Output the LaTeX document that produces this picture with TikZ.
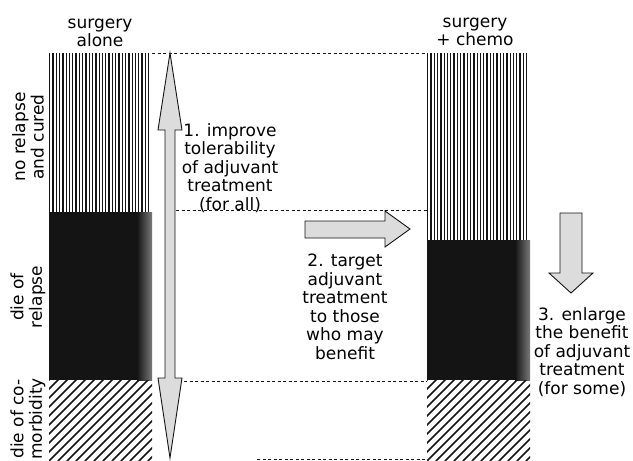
\documentclass[tikz,border=0pt]{standalone}
\usepackage{fontspec}
\setmainfont{DejaVu Sans}
\usepackage{xcolor}
\definecolor{ScanBlack}{HTML}{141414}
\definecolor{ScanGray}{HTML}{DCDCDC}
\definecolor{ScanEdge}{HTML}{7A7A7A}
\tikzset{
    % Text styles
    caption/.style={
        align=center,
        inner sep=0pt,
        font=\fontsize{17}{18.5}\selectfont
    },
    sidelabel/.style={
        caption,
        rotate=90
    },
    % Bar styles
    stripe/.style={
        line width=1.3pt,
        ScanBlack
    },
    hatch/.style={
        line width=1.7pt,
        ScanBlack
    },
    % Arrow styles
    blockarrow/.style={
        draw=ScanBlack,
        fill=ScanGray,
        line width=0.9pt,
        line join=miter
    },
    guide/.style={
        draw=ScanBlack,
        line width=1pt,
        dash pattern=on 3pt off 2.5pt
    }
}

\begin{document}
\begin{tikzpicture}[x=1pt, y=-1pt]
    \useasboundingbox (0,0) rectangle (633,461);
    \clip (0,0) rectangle (633,461);

    % bars: x of left edge / bottom of the striped part
    \foreach \bx/\by in {49/212,427/240} {
        \foreach \sx in {0,3.3,...,102}
            \draw[stripe] (\bx+\sx+0.7,53) -- (\bx+\sx+0.7,\by);
        \fill[ScanBlack] (\bx,\by) rectangle (\bx+103,380);
        \shade[left color=ScanBlack, right color=ScanEdge] (\bx+88,\by) rectangle (\bx+103,380);
        \begin{scope}
            \clip (\bx,380) rectangle (\bx+103,461);
            \foreach \hx in {-90,-81,...,110}
                \draw[hatch] (\bx+\hx,461) -- (\bx+\hx+90,371);
        \end{scope}
    }

    % guide lines between the bars
    \coordinate (curedL) at (152,53);
    \coordinate (curedR) at (427,53);
    \coordinate (relapseL) at (176,210);
    \coordinate (relapseR) at (427,210);
    \coordinate (comorbL) at (184,381);
    \coordinate (comorbR) at (427,381);
    \coordinate (baseL) at (257,459);
    \coordinate (baseR) at (427,459);
    \draw[guide] (curedL) -- (curedR);
    \draw[guide] (relapseL) -- (relapseR);
    \draw[guide] (comorbL) -- (comorbR);
    \draw[guide] (baseL) -- (baseR);

    % block arrows
    \draw[blockarrow] (170,53) -- (182,130) -- (175,130) -- (175,378) -- (182,378)
        -- (170,458) -- (158,378) -- (165,378) -- (165,130) -- (158,130) -- cycle;
    \draw[blockarrow] (305,221) -- (385,221) -- (385,211) -- (410,229) -- (385,247)
        -- (385,238) -- (305,238) -- cycle;
    \draw[blockarrow] (560,213) -- (582,213) -- (582,273) -- (593,273) -- (571,293)
        -- (549,273) -- (560,273) -- cycle;

    % labels
    \node[caption] (aloneHead) at (100,33) {surgery\\alone};
    \node[caption] (chemoHead) at (475,32) {surgery\\+ chemo};
    \node[sidelabel] (curedLabel) at (28,137) {no relapse\\and cured};
    \node[sidelabel] (relapseLabel) at (28,297) {die of\\relapse};
    \node[sidelabel] (comorbLabel) at (28,419) {die of co-\\morbidity};
    \node[caption] (stepOne) at (230,168) {1. improve\\tolerability\\of adjuvant\\treatment\\(for all)};
    \node[caption] (stepTwo) at (345,307) {2. target\\adjuvant\\treatment\\to those\\who may\\benefit};
    \node[caption] (stepThree) at (582,352) {3. enlarge\\the benefit\\of adjuvant\\treatment\\(for some)};
\end{tikzpicture}
\end{document}
